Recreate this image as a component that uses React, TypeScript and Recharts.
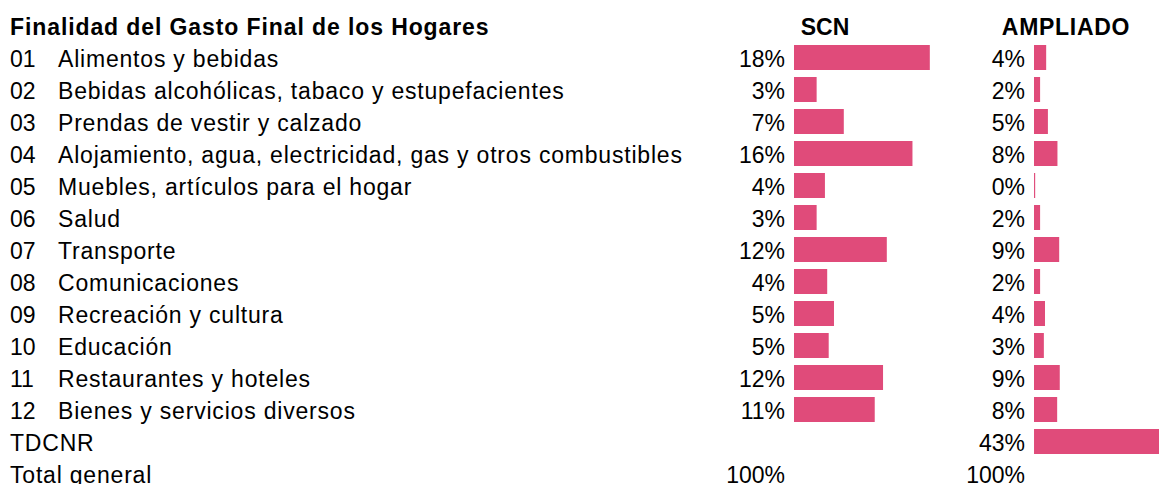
import React from 'react';
import { BarChart, Bar, XAxis, YAxis } from 'recharts';

const codes = ['01', '02', '03', '04', '05', '06', '07', '08', '09', '10', '11', '12', '', ''];
const names = [
  'Alimentos y bebidas',
  'Bebidas alcohólicas, tabaco y estupefacientes',
  'Prendas de vestir y calzado',
  'Alojamiento, agua, electricidad, gas y otros combustibles',
  'Muebles, artículos para el hogar',
  'Salud',
  'Transporte',
  'Comunicaciones',
  'Recreación y cultura',
  'Educación',
  'Restaurantes y hoteles',
  'Bienes y servicios diversos',
  'TDCNR',
  'Total general',
];
const scnLabels = ['18%', '3%', '7%', '16%', '4%', '3%', '12%', '4%', '5%', '5%', '12%', '11%', '', '100%'];
const ampLabels = ['4%', '2%', '5%', '8%', '0%', '2%', '9%', '2%', '4%', '3%', '9%', '8%', '43%', '100%'];
const scnValues = [18.0, 3.0, 6.6, 15.7, 4.1, 3.0, 12.3, 4.4, 5.3, 4.6, 11.8, 10.7, null, null];
const ampValues = [4.2, 2.1, 4.8, 8.1, 0.4, 2.1, 8.7, 2.1, 3.8, 3.4, 8.9, 8.0, 43.2, null];

const rows = names.map((name, i) => ({
  name,
  code: codes[i],
  scn: scnValues[i],
  amp: ampValues[i],
}));

const FONT = '"Liberation Sans", Arial, sans-serif';
const SIZE = 23;
const SPACING = 0.8;
const PINK = '#E04B7A';
const H = 490;
const TOP = 41;

// category column: code, name and the SCN share, all drawn in the y axis tick
const LeftTick = (props: any) => {
  const { y, index } = props;
  const code = codes[index];
  const ty = y + 2;
  return (
    <g fontFamily={FONT} fontSize={SIZE} fill="#000">
      {code ? (
        <>
          <text x={10} y={ty} dy="0.36em">{code}</text>
          <text x={58} y={ty} dy="0.36em" letterSpacing={SPACING}>{names[index]}</text>
        </>
      ) : (
        <text x={10} y={ty} dy="0.36em" letterSpacing={SPACING}>{names[index]}</text>
      )}
      <text x={785} y={ty} dy="0.36em" textAnchor="end">{scnLabels[index]}</text>
    </g>
  );
};

const RightTick = (props: any) => {
  const { y, index } = props;
  return (
    <text x={65} y={y + 2} dy="0.36em" textAnchor="end" fontFamily={FONT} fontSize={SIZE} fill="#000">
      {ampLabels[index]}
    </text>
  );
};

export default function App() {
  return (
    <div style={{ position: 'absolute', left: 0, top: 0, width: 1159, height: 484, overflow: 'hidden', background: '#fff', fontFamily: FONT }}>
      <div style={{ position: 'absolute', left: 10, top: 14, fontSize: SIZE, fontWeight: 'bold', letterSpacing: 0.9, whiteSpace: 'nowrap' }}>
        Finalidad del Gasto Final de los Hogares
      </div>
      <div style={{ position: 'absolute', left: 775, width: 100, top: 14, fontSize: SIZE, fontWeight: 'bold', textAlign: 'center' }}>
        SCN
      </div>
      <div style={{ position: 'absolute', left: 996, width: 140, top: 14, fontSize: SIZE, fontWeight: 'bold', textAlign: 'center', letterSpacing: 0.7 }}>
        AMPLIADO
      </div>

      <div style={{ position: 'absolute', left: 0, top: 0 }}>
        <BarChart width={960} height={H} data={rows} layout="vertical" margin={{ top: TOP, right: 0, bottom: H - TOP - 448, left: 0 }} barSize={25}>
          <XAxis type="number" domain={[0, 22]} hide />
          <YAxis type="category" dataKey="name" width={794} interval={0} axisLine={false} tickLine={false} tick={<LeftTick />} />
          <Bar dataKey="scn" fill={PINK} isAnimationActive={false} />
        </BarChart>
      </div>

      <div style={{ position: 'absolute', left: 960, top: 0 }}>
        <BarChart width={199} height={H} data={rows} layout="vertical" margin={{ top: TOP, right: 0, bottom: H - TOP - 448, left: 0 }} barSize={25}>
          <XAxis type="number" domain={[-0.7, 43.2]} hide allowDataOverflow />
          <YAxis type="category" dataKey="name" width={72} interval={0} axisLine={false} tickLine={false} tick={<RightTick />} />
          <Bar dataKey="amp" fill={PINK} isAnimationActive={false} />
        </BarChart>
      </div>
    </div>
  );
}
